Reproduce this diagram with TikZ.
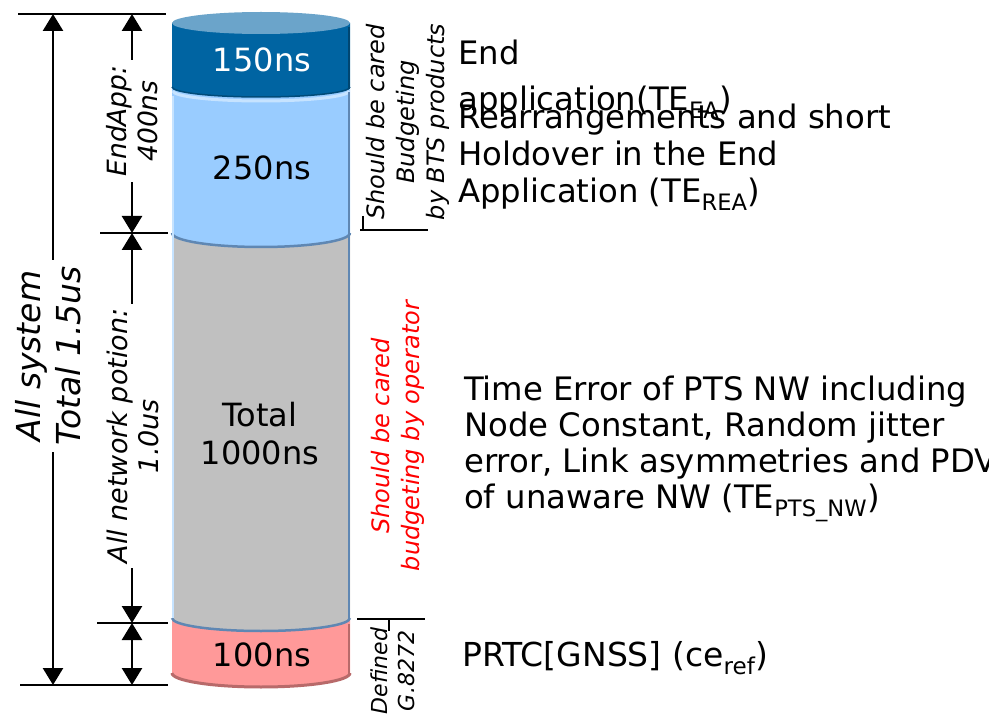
\documentclass[tikz,border=0pt]{standalone}
\usepackage{fontspec}
\setmainfont{DejaVu Sans}
\usetikzlibrary{arrows.meta}

\definecolor{capcol}{HTML}{6BA4CA}
\definecolor{bluecol}{HTML}{0064A2}
\definecolor{lbcol}{HTML}{99CCFF}
\definecolor{lbhi}{HTML}{C6E3FF}
\definecolor{greycol}{HTML}{C0C0C0}
\definecolor{pinkcol}{HTML}{FF9999}
\definecolor{edgecol}{HTML}{5F87B3}
\definecolor{pinkedge}{HTML}{B86A6A}

\newcommand\fsz[2]{\fontsize{#1}{#2}\selectfont}
% one band of the cylinder: top level, bottom level, bottom arc radius, colour
\newcommand\cylband[4]{%
  \fill[#4] (172,#1) -- (172,#2) arc[start angle=180,end angle=0,x radius=89,y radius=#3] -- (350,#1) -- cycle;}

\begin{document}
\begin{tikzpicture}[x=1pt,y=-1pt,
  dim/.style={line width=2.5pt,{Triangle[length=17pt,width=20pt]}-{Triangle[length=17pt,width=20pt]}},
  ext/.style={line width=2pt},
  cyltext/.style={font=\fsz{32}{38}, align=center, inner sep=0pt},
  rtext/.style={font=\fsz{32.3}{36}, anchor=base west, inner sep=0pt},
  vlabel/.style={rotate=90, align=center, inner sep=2pt, font=\itshape},
  cover/.style={fill=white}]
\useasboundingbox (0,0) rectangle (989,714);

% ---------- cylinder ----------
\cylband{618}{673}{14}{pinkcol}
\draw[pinkedge, line width=3pt] (172,673) arc[start angle=180,end angle=0,x radius=89,y radius=14];
\cylband{233}{618}{13}{greycol}
\draw[edgecol, line width=2.5pt] (172,618) arc[start angle=180,end angle=0,x radius=89,y radius=13];
\cylband{88}{233}{14}{lbcol}
\draw[edgecol, line width=2.5pt] (172,233) arc[start angle=180,end angle=0,x radius=89,y radius=14];
\cylband{23}{87}{10}{bluecol}
\draw[lbhi, line width=3pt] (173,91) arc[start angle=180,end angle=0,x radius=88,y radius=10];
\draw[bluecol!75!black, line width=1.5pt] (172,87) arc[start angle=180,end angle=0,x radius=89,y radius=10];
\fill[capcol] (261,23) ellipse[x radius=89, y radius=11];
% side edges
\draw[edgecol, line width=2.5pt] (349,92) -- (349,620);
\draw[lbhi, line width=1.5pt] (173,96) -- (173,618);
\draw[bluecol!70!black, line width=2pt] (349,27) -- (349,89);
\draw[pinkedge, line width=2pt] (349,624) -- (349,674);

\node[cyltext, text=white] (v150) at (262,60) {150ns};
\node[cyltext] (v250) at (262,168) {250ns};
\node[cyltext] (v1000) at (260,434) {Total\\1000ns};
\node[cyltext] (v100) at (262,655) {100ns};

% ---------- dimension lines on the left ----------
\coordinate (sysT) at (53,14);
\coordinate (sysB) at (53,685);
\coordinate (endT) at (132,14);
\coordinate (endB) at (132,233);
\coordinate (nwT) at (132,233);
\coordinate (nwB) at (132,623);
\coordinate (prB) at (132,685);

\draw[ext] (18,14) -- (166,14);
\draw[ext] (100,233) -- (168,233);
\draw[ext] (97,623) -- (168,623);
\draw[ext] (20,685) -- (168,685);

\draw[dim] (sysT) -- (sysB);
\draw[dim] (endT) -- (endB);
\draw[dim] (nwT) -- (nwB);
\draw[dim] (nwB) -- (prB);

\node[vlabel, cover, font=\itshape\fsz{33}{40}, inner sep=6pt] (sys) at (48,356) {All system\\Total 1.5us};
\node[vlabel, cover, font=\itshape\fsz{26.5}{31}, inner sep=5pt] (endapp) at (132,121) {EndApp:\\400ns};
\node[vlabel, cover, font=\itshape\fsz{27}{31}, inner sep=5pt] (nw) at (133,436) {All network potion:\\1.0us};

% ---------- budget brackets on the right ----------
\draw[ext] (363,216) -- (363,230) (360,230) -- (428,230);
\draw[ext] (357,619) -- (425,619) (389,619) -- (389,631);

\node[vlabel, font=\itshape\fsz{24}{30}] (bts) at (408,122) {Should be cared\\Budgeting\\by BTS products};
\node[vlabel, text=red, font=\itshape\fsz{24}{30}] (op) at (398,436) {Should be cared\\budgeting by operator};
\node[vlabel, font=\itshape\fsz{22}{27}] (g8272) at (393,671) {Defined\\G.8272};

% ---------- descriptions ----------
\node[rtext] (ea1) at (458,65) {End};
\node[rtext] (ea2) at (458,111) {application(TE\textsubscript{EA})};
\node[rtext] (rea1) at (458,129) {Rearrangements and short};
\node[rtext] (rea2) at (458,166) {Holdover in the End};
\node[rtext] (rea3) at (458,203) {Application (TE\textsubscript{REA})};
\node[rtext] (pts1) at (464,400) {Time Error of PTS NW including};
\node[rtext] (pts2) at (464,436) {Node Constant, Random jitter};
\node[rtext] (pts3) at (464,472) {error, Link asymmetries and PDV};
\node[rtext] (pts4) at (464,508) {of unaware NW (TE\textsubscript{PTS\_NW})};
\node[rtext, font=\fsz{33}{36}] (prtc) at (462,666) {PRTC[GNSS] (ce\textsubscript{ref})};
\end{tikzpicture}
\end{document}
